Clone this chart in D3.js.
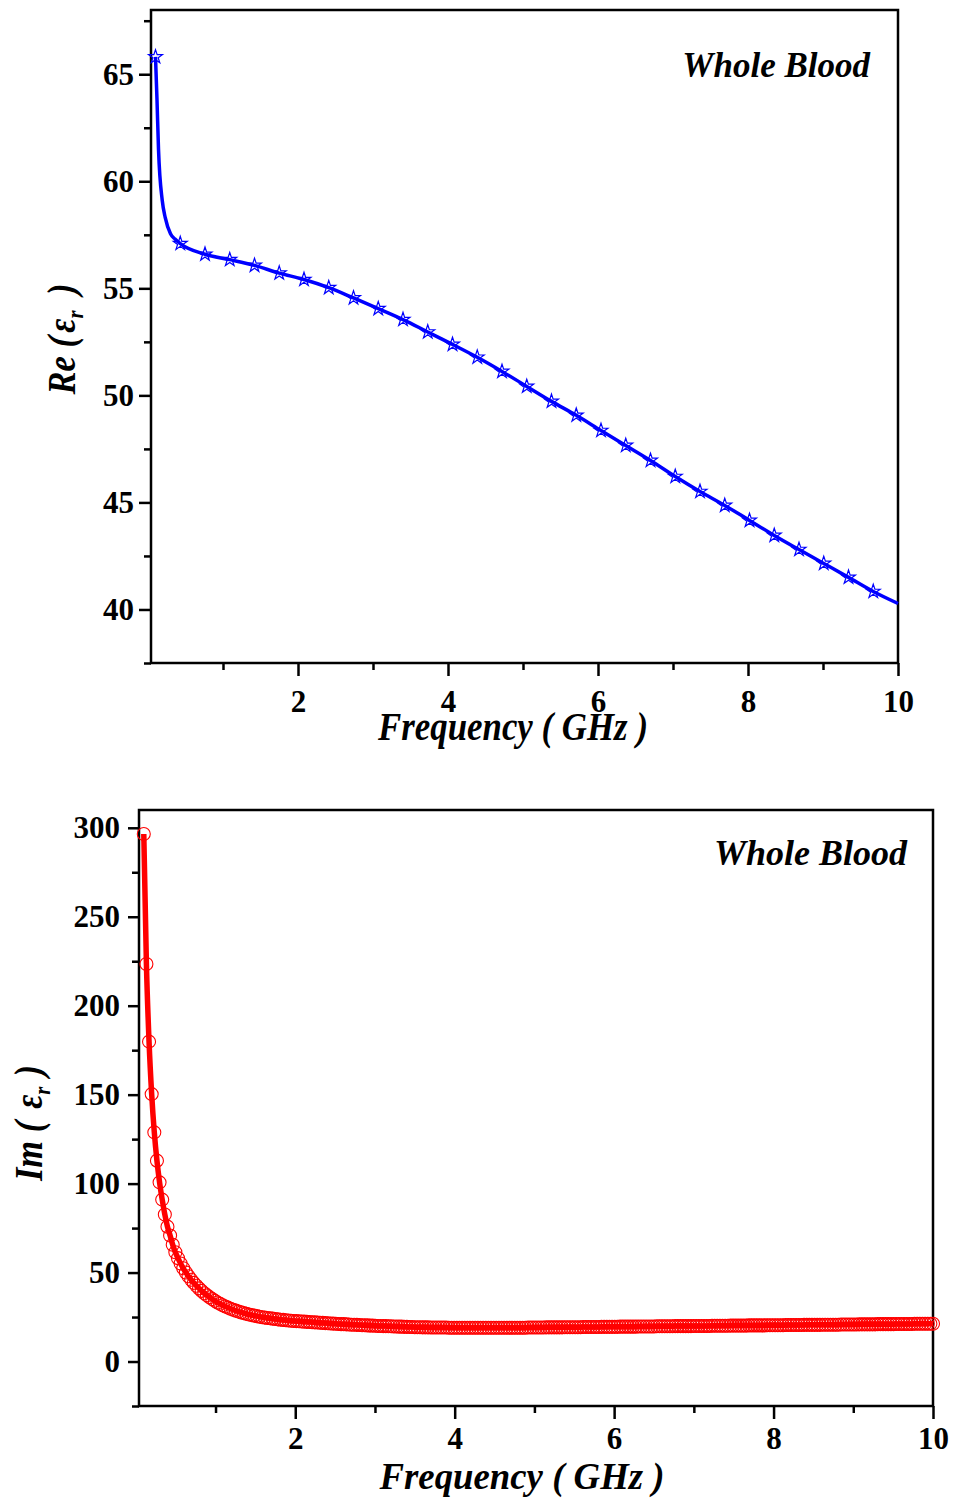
<!DOCTYPE html>
<html>
<head>
<meta charset="utf-8">
<script src="https://cdn.jsdelivr.net/npm/d3@7"></script>
<style>
  body { margin: 0; background: #fff; }
  svg text { font-family: "Liberation Serif", "Times New Roman", serif; font-weight: bold; }
</style>
</head>
<body>
<div id="chart"></div>
<script>
// sampling of the measurement (GHz)
const freqStart = 0.1
const freqStep = 0.033
const starEvery = 10

// Re(eps_r): values at the star markers (every 10th sample)
const reStar = [
  65.81, 57.09, 56.59, 56.34, 56.07, 55.71, 55.41, 55.03, 54.55, 54.05,
  53.54, 52.96, 52.38, 51.78, 51.12, 50.42, 49.72, 49.07, 48.36, 47.66,
  46.96, 46.21, 45.51, 44.86, 44.16, 43.46, 42.8, 42.15, 41.5, 40.84
]
// extra points of the fitted line near the knee, and its end
const reKnee = [[0.12, 63.8], [0.14, 61.5], [0.19, 59.1], [0.23, 58.3], [0.3, 57.55], [0.36, 57.3]]
const reEnd = [10.0, 40.28]

// Im(eps_r): every sample (circles)
const imValues = [
  296.5, 223.4, 179.8, 150.3, 128.8, 112.9, 100.7, 91.0, 82.6, 75.8,
  70.8, 65.6, 61.4, 58.1, 55.1, 52.4, 50.0, 47.9, 46.0, 44.2,
  42.6, 41.1, 39.7, 38.4, 37.2, 36.1, 35.1, 34.1, 33.2, 32.4,
  31.6, 30.9, 30.3, 29.7, 29.1, 28.6, 28.1, 27.6, 27.2, 26.8,
  26.4, 26.1, 25.8, 25.5, 25.2, 24.9, 24.7, 24.5, 24.3, 24.1,
  23.9, 23.7, 23.5, 23.4, 23.2, 23.1, 22.9, 22.8, 22.7, 22.6,
  22.5, 22.4, 22.3, 22.2, 22.1, 22.0, 21.9, 21.8, 21.7, 21.6,
  21.5, 21.4, 21.3, 21.2, 21.1, 21.0, 21.0, 20.9, 20.8, 20.7,
  20.7, 20.6, 20.5, 20.4, 20.4, 20.3, 20.2, 20.2, 20.1, 20.0,
  20.0, 19.9, 19.9, 19.8, 19.8, 19.7, 19.7, 19.6, 19.6, 19.5,
  19.5, 19.4, 19.4, 19.3, 19.3, 19.3, 19.2, 19.2, 19.2, 19.1,
  19.1, 19.1, 19.1, 19.1, 19.1, 19.1, 19.0, 19.0, 19.0, 19.0,
  19.0, 19.0, 19.0, 19.0, 19.0, 19.0, 19.0, 19.0, 19.0, 19.0,
  19.0, 19.0, 19.0, 19.0, 19.0, 19.0, 19.0, 19.0, 19.0, 19.0,
  19.0, 19.0, 19.0, 19.0, 19.0, 19.0, 19.1, 19.1, 19.1, 19.1,
  19.1, 19.1, 19.1, 19.2, 19.2, 19.2, 19.2, 19.2, 19.2, 19.2,
  19.3, 19.3, 19.3, 19.3, 19.3, 19.3, 19.3, 19.4, 19.4, 19.4,
  19.4, 19.4, 19.4, 19.4, 19.5, 19.5, 19.5, 19.5, 19.5, 19.5,
  19.5, 19.6, 19.6, 19.6, 19.6, 19.6, 19.6, 19.6, 19.7, 19.7,
  19.7, 19.7, 19.7, 19.7, 19.7, 19.8, 19.8, 19.8, 19.8, 19.8,
  19.8, 19.8, 19.9, 19.9, 19.9, 19.9, 19.9, 19.9, 19.9, 20.0,
  20.0, 20.0, 20.0, 20.0, 20.0, 20.0, 20.1, 20.1, 20.1, 20.1,
  20.1, 20.1, 20.1, 20.2, 20.2, 20.2, 20.2, 20.2, 20.2, 20.2,
  20.3, 20.3, 20.3, 20.3, 20.3, 20.3, 20.3, 20.4, 20.4, 20.4,
  20.4, 20.4, 20.4, 20.4, 20.5, 20.5, 20.5, 20.5, 20.5, 20.5,
  20.5, 20.6, 20.6, 20.6, 20.6, 20.6, 20.6, 20.6, 20.7, 20.7,
  20.7, 20.7, 20.7, 20.7, 20.7, 20.8, 20.8, 20.8, 20.8, 20.8,
  20.8, 20.8, 20.9, 20.9, 20.9, 20.9, 20.9, 20.9, 20.9, 21.0,
  21.0, 21.0, 21.0, 21.0, 21.0, 21.0, 21.1, 21.1, 21.1, 21.1,
  21.1, 21.1, 21.1, 21.2, 21.2, 21.2, 21.2, 21.2, 21.2, 21.2,
  21.2
]

const xMajor = [2, 4, 6, 8, 10]
const xMinor = [1, 3, 5, 7, 9]
const reMajor = [40, 45, 50, 55, 60, 65]
const reMinor = [37.5, 42.5, 47.5, 52.5, 57.5, 62.5, 67.5]
const imMajor = [0, 50, 100, 150, 200, 250, 300]
const imMinor = [-25, 25, 75, 125, 175, 225, 275]

let svg = d3.select('#chart')
  .append('svg')
  .attr('width', 954)
  .attr('height', 1501)

// one panel: frame, ticks, tick labels
function drawPanel(x, y, o) {
  let g = svg.append('g')
  let [x0, x1] = x.range()
  let [y0, y1] = y.range()

  g.append('rect')
    .attr('x', x0).attr('y', y1)
    .attr('width', x1 - x0).attr('height', y0 - y1)
    .attr('fill', 'none').attr('stroke', '#000').attr('stroke-width', 2.5)

  let ax = g.append('g')
    .attr('transform', `translate(0,${y0})`)
    .call(d3.axisBottom(x).tickValues(xMajor).tickSize(13).tickFormat(d3.format('d')))
  ax.append('g')
    .call(d3.axisBottom(x).tickValues(xMinor).tickSize(7).tickFormat(''))

  let ay = g.append('g')
    .attr('transform', `translate(${x0},0)`)
    .call(d3.axisLeft(y).tickValues(o.major).tickSize(o.tick).tickPadding(o.pad).tickFormat(d3.format('d')))
  ay.append('g')
    .call(d3.axisLeft(y).tickValues(o.minor).tickSize(7).tickFormat(''))

  g.selectAll('.domain').remove()
  g.selectAll('.tick line').attr('stroke', '#000').attr('stroke-width', 2.5)
  g.selectAll('.tick text').attr('fill', '#000')
  ax.attr('font-size', 31)
  ay.attr('font-size', o.yfont)
  ax.selectAll('.tick text').attr('y', o.xlab).attr('dy', 0)
}

// ---------- top: Re ----------
let xTop = d3.scaleLinear().domain([0.04, 10]).range([151, 898])
let yTop = d3.scaleLinear().domain([37.5, 68]).range([663, 10])

drawPanel(xTop, yTop, { major: reMajor, minor: reMinor, tick: 12, pad: 5, yfont: 31, xlab: 49 })

let reStarPts = reStar.map((v, k) => [freqStart + k * starEvery * freqStep, v])
let reLinePts = reKnee.concat(reStarPts, [reEnd]).sort((a, b) => a[0] - b[0])

let reLine = d3.line()
  .x(d => xTop(d[0]))
  .y(d => yTop(d[1]))
  .curve(d3.curveMonotoneX)

svg.append('path')
  .datum(reLinePts)
  .attr('d', reLine)
  .attr('fill', 'none')
  .attr('stroke', '#0000ff')
  .attr('stroke-width', 3.5)

svg.selectAll('.star')
  .data(reStarPts)
  .enter()
  .append('path')
  .attr('class', 'star')
  .attr('d', d3.symbol(d3.symbolStar, 60))
  .attr('transform', d => `translate(${xTop(d[0])},${yTop(d[1])})`)
  .attr('fill', 'none')
  .attr('stroke', '#0000ff')
  .attr('stroke-width', 1.2)

svg.append('text')
  .attr('x', 870).attr('y', 77)
  .attr('text-anchor', 'end')
  .style('font-size', '35px').style('font-style', 'italic')
  .text('Whole Blood')

svg.append('text')
  .attr('x', 513).attr('y', 740)
  .attr('text-anchor', 'middle')
  .attr('textLength', 270).attr('lengthAdjust', 'spacingAndGlyphs')
  .style('font-size', '40px').style('font-style', 'italic')
  .text('Frequency ( GHz )')

let reTitle = svg.append('text')
  .attr('transform', 'translate(75,339) rotate(-90) scale(0.86,1)')
  .attr('text-anchor', 'middle')
  .style('font-size', '40px').style('font-style', 'italic')
reTitle.append('tspan').text('Re (')
reTitle.append('tspan').attr('dx', 4).text('ε')
reTitle.append('tspan').attr('dy', 8).style('font-size', '24px').text('r')
reTitle.append('tspan').attr('dy', -8).attr('dx', 18).text(')')

// ---------- bottom: Im ----------
let xBot = d3.scaleLinear().domain([0.04, 10]).range([139, 933])
let yBot = d3.scaleLinear().domain([-25, 310]).range([1406, 810])

drawPanel(xBot, yBot, { major: imMajor, minor: imMinor, tick: 11, pad: 8, yfont: 31, xlab: 43 })

let imPts = imValues.map((v, i) => [freqStart + i * freqStep, v])

let imLine = d3.line()
  .x(d => xBot(d[0]))
  .y(d => yBot(d[1]))
  .curve(d3.curveMonotoneX)

svg.append('path')
  .datum(imPts)
  .attr('d', imLine)
  .attr('fill', 'none')
  .attr('stroke', '#ff0000')
  .attr('stroke-width', 5.5)

svg.selectAll('.circ')
  .data(imPts)
  .enter()
  .append('circle')
  .attr('class', 'circ')
  .attr('cx', d => xBot(d[0]))
  .attr('cy', d => yBot(d[1]))
  .attr('r', 6.5)
  .attr('fill', 'none')
  .attr('stroke', '#ff0000')
  .attr('stroke-width', 1.1)

svg.append('text')
  .attr('x', 907).attr('y', 865)
  .attr('text-anchor', 'end')
  .style('font-size', '36px').style('font-style', 'italic')
  .text('Whole Blood')

svg.append('text')
  .attr('x', 522).attr('y', 1489)
  .attr('text-anchor', 'middle')
  .attr('textLength', 285).attr('lengthAdjust', 'spacingAndGlyphs')
  .style('font-size', '38px').style('font-style', 'italic')
  .text('Frequency ( GHz )')

let imTitle = svg.append('text')
  .attr('transform', 'translate(42,1123) rotate(-90) scale(0.86,1)')
  .attr('text-anchor', 'middle')
  .style('font-size', '40px').style('font-style', 'italic')
imTitle.append('tspan').text('Im (')
imTitle.append('tspan').attr('dx', 14).text('ε')
imTitle.append('tspan').attr('dy', 8).style('font-size', '24px').text('r')
imTitle.append('tspan').attr('dy', -8).attr('dx', 12).text(')')
</script>
</body>
</html>
